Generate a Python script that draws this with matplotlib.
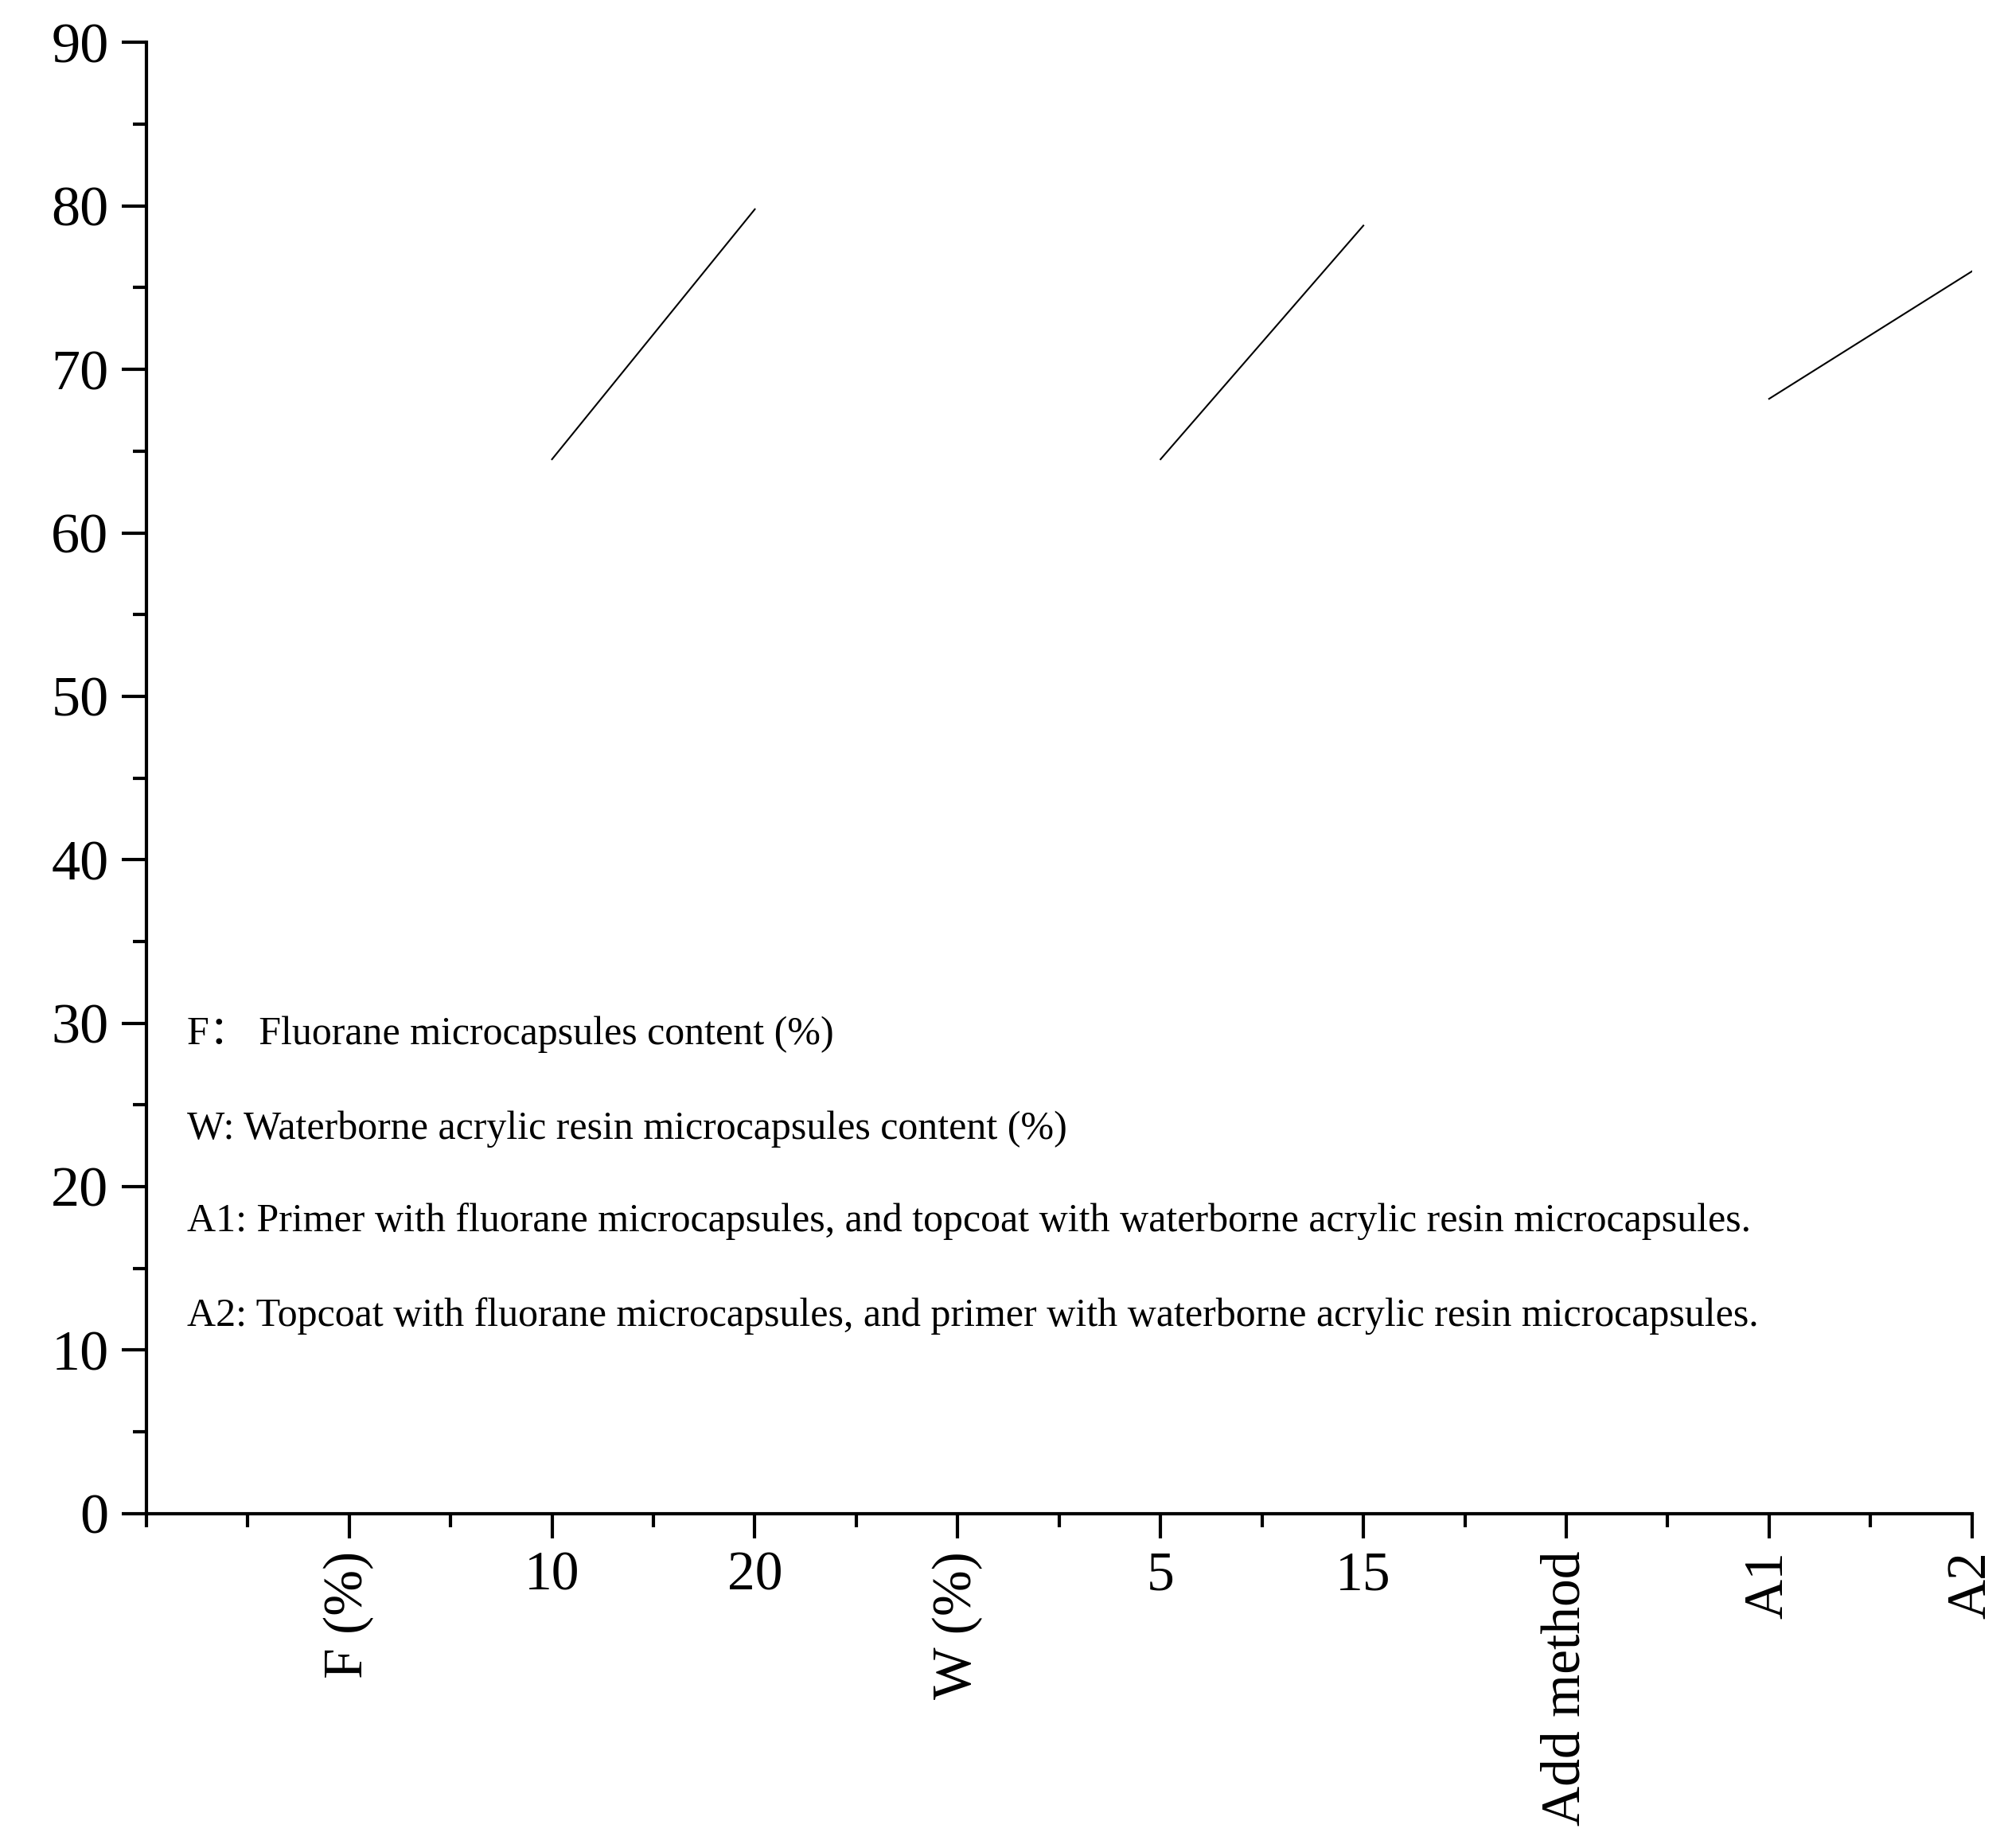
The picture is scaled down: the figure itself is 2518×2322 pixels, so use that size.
import matplotlib.pyplot as plt
from matplotlib.ticker import MultipleLocator

plt.rcParams['font.family'] = ['Liberation Serif', 'Noto Sans CJK SC', 'DejaVu Serif']

# tick positions and labels along the x axis
tick_pos = [1, 2, 3, 4, 5, 6, 7, 8, 9]
tick_labels = ['F (%)', '10', '20', 'W (%)', '5', '15', 'Add method', 'A1', 'A2']
rotated = ['F (%)', 'W (%)', 'Add method', 'A1', 'A2']

# mean-response segments (x positions, y values)
f_x = [2, 3]
f_y = [64.5, 79.8]
w_x = [5, 6]
w_y = [64.5, 78.8]
a_x = [8, 9]
a_y = [68.2, 76.0]

notes = [
    'F\uff1a Fluorane microcapsules content (%)',
    'W: Waterborne acrylic resin microcapsules content (%)',
    'A1: Primer with fluorane microcapsules, and topcoat with waterborne acrylic resin microcapsules.',
    'A2: Topcoat with fluorane microcapsules, and primer with waterborne acrylic resin microcapsules.',
]
note_y = [29.3, 23.5, 17.9, 12.1]

fig = plt.figure(figsize=(25.18, 23.22), dpi=100)
ax = fig.add_axes([0.073, 0.181, 0.911, 0.796])

for xs, ys in [(f_x, f_y), (w_x, w_y), (a_x, a_y)]:
    ax.plot(xs, ys, color='black', lw=1.5)

for t, y in zip(notes, note_y):
    ax.text(0.2, y, t, fontsize=36, va='center', ha='left')

ax.set_xlim(0, 9)
ax.set_ylim(0, 90)
ax.set_xticks(tick_pos)
ax.set_xticklabels(tick_labels)
ax.xaxis.set_minor_locator(MultipleLocator(0.5))
ax.yaxis.set_major_locator(MultipleLocator(10))
ax.yaxis.set_minor_locator(MultipleLocator(5))
for lab in ax.get_xticklabels():
    if lab.get_text() in rotated:
        lab.set_rotation(90)
        lab.set_va('top')
ax.tick_params(axis='both', which='major', direction='out', length=22, width=3, labelsize=52, pad=12)
ax.tick_params(axis='x', which='major', labelsize=50)
ax.tick_params(axis='both', which='minor', direction='out', length=12, width=3)
for s in ['top', 'right']:
    ax.spines[s].set_visible(False)
for s in ['left', 'bottom']:
    ax.spines[s].set_linewidth(3)

fig.savefig('out.png', dpi=100)
